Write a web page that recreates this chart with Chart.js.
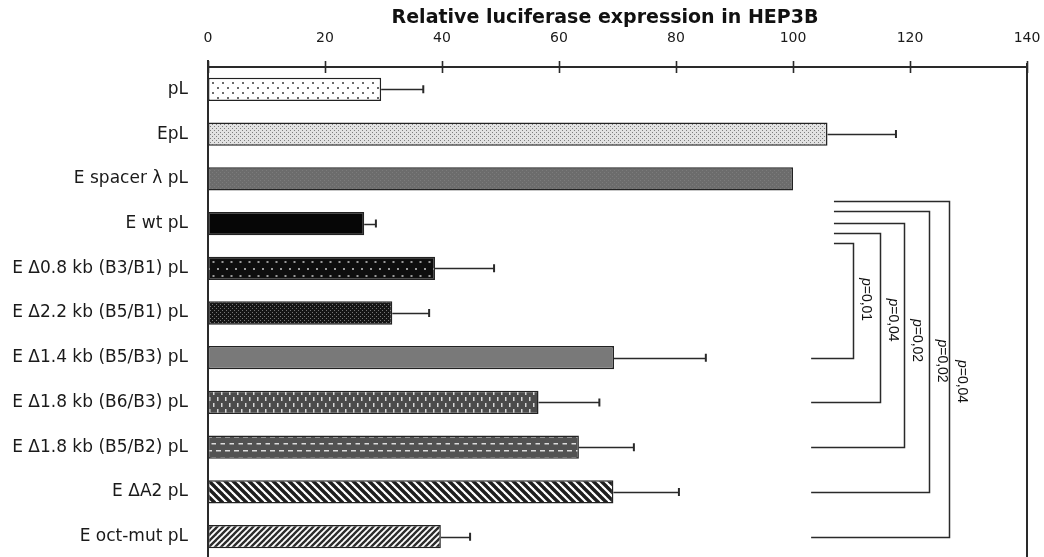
<!DOCTYPE html>
<html>
<head>
<meta charset="utf-8">
<script src="https://cdn.jsdelivr.net/npm/chart.js@4.4.1/dist/chart.umd.min.js"></script>
<style>
  html, body { margin: 0; padding: 0; background: #fff; overflow: hidden; }
  canvas { display: block; }
</style>
</head>
<body>
<canvas id="c" width="1044" height="561"></canvas>
<script>
// Reporter constructs, top to bottom
const constructs = [
  'pL',
  'EpL',
  'E spacer λ pL',
  'E wt pL',
  'E Δ0.8 kb (B3/B1) pL',
  'E Δ2.2 kb (B5/B1) pL',
  'E Δ1.4 kb (B5/B3) pL',
  'E Δ1.8 kb (B6/B3) pL',
  'E Δ1.8 kb (B5/B2) pL',
  'E ΔA2 pL',
  'E oct-mut pL'
];

// Relative luciferase expression (E spacer λ pL = 100)
const expression = [29.6, 105.9, 100, 26.7, 38.8, 31.5, 69.4, 56.5, 63.4, 69.3, 39.8];

// Upper error (standard deviation)
const errorUp = [7.2, 11.7, 0, 2.0, 10.1, 6.3, 15.7, 10.4, 9.4, 11.2, 5.0];

// Axis tick values
const xTicks = [0, 20, 40, 60, 80, 100, 120, 140];

// Pairwise comparisons against E wt pL
const compareRef = 'E wt pL';
const compareTest = ['E Δ1.4 kb (B5/B3) pL', 'E Δ1.8 kb (B6/B3) pL', 'E Δ1.8 kb (B5/B2) pL', 'E ΔA2 pL', 'E oct-mut pL'];
const pValues = ['0,01', '0,04', '0,02', '0,02', '0,04'];

const titleText = 'Relative luciferase expression in HEP3B';

// ---------- fill patterns ----------
const mainCtx = document.getElementById('c').getContext('2d');
function tile(w, h, bg, draw) {
  const t = document.createElement('canvas');
  t.width = w; t.height = h;
  const g = t.getContext('2d');
  g.fillStyle = bg; g.fillRect(0, 0, w, h);
  if (draw) draw(g);
  return mainCtx.createPattern(t, 'repeat');
}
function dots(pts, color, s) {
  return g => { g.fillStyle = color; pts.forEach(p => g.fillRect(p[0], p[1], s, s)); };
}
function stripes(w, color, lw, dir) {
  return g => {
    g.strokeStyle = color; g.lineWidth = lw;
    for (let k = -1; k <= 1; k++) {
      g.beginPath();
      if (dir > 0) { g.moveTo(k * w - 1, -1); g.lineTo(k * w + w + 1, w + 1); }
      else { g.moveTo(k * w - 1, w + 1); g.lineTo(k * w + w + 1, -1); }
      g.stroke();
    }
  };
}
const fills = [
  tile(10, 10, '#ffffff', dots([[2, 2], [7, 7]], '#6a6a6a', 2)),
  tile(4, 4, '#e2e2e2', dots([[0, 0], [2, 2]], '#7e7e7e', 1)),
  tile(4, 4, '#6c6c6c', dots([[0, 0], [2, 2]], '#7b7b7b', 1)),
  '#060606',
  tile(9, 14, '#0e0e0e', dots([[1, 2], [5.5, 9]], '#9a9a9a', 2)),
  tile(4, 4, '#151515', dots([[0, 0], [2, 2]], '#767676', 1)),
  '#797979',
  tile(8, 12, '#4b4b4b', g => { g.fillStyle = '#d8d8d8'; g.fillRect(1, 1, 1.5, 4); g.fillRect(5, 7, 1.5, 4); }),
  tile(9, 14, '#525252', g => { g.fillStyle = '#dcdcdc'; g.fillRect(0, 2, 5, 1.5); g.fillRect(4.5, 9, 5, 1.5); }),
  tile(8, 8, '#ffffff', stripes(8, '#1e1e1e', 3.4, 1)),
  tile(6, 6, '#ffffff', stripes(6, '#2c2c2c', 2.4, -1))
];

// ---------- overlay drawing: frame, ticks, error bars, brackets, title ----------
const ink = '#2a2a2a';
const overlay = {
  id: 'overlay',
  afterDatasetsDraw(chart) {
    const ctx = chart.ctx;
    const xs = chart.scales.x, ys = chart.scales.y;
    const a = chart.chartArea;
    ctx.save();
    ctx.strokeStyle = ink;
    ctx.lineCap = 'butt';

    // frame
    ctx.lineWidth = 2;
    ctx.beginPath();
    ctx.moveTo(a.left, a.top); ctx.lineTo(a.right, a.top);
    ctx.moveTo(a.left, a.top - 7); ctx.lineTo(a.left, a.bottom + 6);
    ctx.moveTo(a.right, a.top - 4); ctx.lineTo(a.right, a.bottom + 6);
    ctx.stroke();

    // tick marks crossing the top axis
    ctx.lineWidth = 1.6;
    ctx.beginPath();
    xTicks.forEach(v => {
      const x = Math.round(xs.getPixelForValue(v)) + 0.5;
      ctx.moveTo(x, a.top - 6); ctx.lineTo(x, a.top + 6);
    });
    ctx.stroke();

    // error bars (upper side only)
    ctx.lineWidth = 1.4;
    ctx.beginPath();
    expression.forEach((v, i) => {
      if (!errorUp[i]) return;
      const y = Math.round(ys.getPixelForValue(i)) + 0.5;
      const x0 = xs.getPixelForValue(v);
      const x1 = xs.getPixelForValue(v + errorUp[i]);
      ctx.moveTo(x0, y); ctx.lineTo(x1, y);
    });
    ctx.stroke();
    ctx.lineWidth = 2;
    ctx.beginPath();
    expression.forEach((v, i) => {
      if (!errorUp[i]) return;
      const y = ys.getPixelForValue(i);
      const x1 = xs.getPixelForValue(v + errorUp[i]);
      ctx.moveTo(x1, y - 4); ctx.lineTo(x1, y + 4);
    });
    ctx.stroke();

    // significance brackets
    const armX = [110.3, 114.9, 118.9, 123.2, 126.6];   // vertical arm, axis units
    const topDy = [19, 9, -1, -13, -23];                 // px from reference bar centre
    const topStart = 107.0, bottomStart = 103.1;         // axis units
    const yRef = ys.getPixelForValue(constructs.indexOf(compareRef));
    ctx.lineWidth = 1.5;
    compareTest.forEach((name, k) => {
      const yT = Math.round(yRef + topDy[k]) + 0.5;
      const yB = Math.round(ys.getPixelForValue(constructs.indexOf(name))) + 0.5;
      const xv = Math.round(xs.getPixelForValue(armX[k])) + 0.5;
      ctx.beginPath();
      ctx.moveTo(xs.getPixelForValue(topStart), yT);
      ctx.lineTo(xv, yT);
      ctx.lineTo(xv, yB);
      ctx.lineTo(xs.getPixelForValue(bottomStart), yB);
      ctx.stroke();

      // rotated label, reading downward
      const ly = yRef + 76 + 20.5 * k;
      const lx = xv + 12;
      ctx.save();
      ctx.translate(lx, ly);
      ctx.rotate(Math.PI / 2);
      ctx.fillStyle = '#111';
      ctx.textBaseline = 'middle';
      const fI = 'italic 14px "Liberation Sans", Arial, sans-serif';
      const fN = '14px "Liberation Sans", Arial, sans-serif';
      ctx.font = fI; const wp = ctx.measureText('p').width;
      ctx.font = fN; const rest = '=' + pValues[k]; const wr = ctx.measureText(rest).width;
      const x0 = -(wp + wr) / 2;
      ctx.textAlign = 'left';
      ctx.font = fI; ctx.fillText('p', x0, 0);
      ctx.font = fN; ctx.fillText(rest, x0 + wp, 0);
      ctx.restore();
    });

    // title
    ctx.fillStyle = '#111';
    ctx.font = 'bold 19px "DejaVu Sans", Verdana, sans-serif';
    ctx.textAlign = 'center';
    ctx.textBaseline = 'middle';
    ctx.fillText(titleText, 605, 18);
    ctx.restore();
  }
};

new Chart(document.getElementById('c'), {
  type: 'bar',
  data: {
    labels: constructs,
    datasets: [{
      data: expression,
      backgroundColor: fills,
      borderColor: '#222',
      borderWidth: 1.5,
      borderSkipped: false,
      categoryPercentage: 1,
      barPercentage: 0.52
    }]
  },
  options: {
    indexAxis: 'y',
    responsive: false,
    animation: false,
    layout: { padding: { left: 0, right: 17, top: 0, bottom: 2 } },
    plugins: { legend: { display: false }, tooltip: { enabled: false } },
    scales: {
      x: {
        type: 'linear',
        position: 'top',
        min: 0, max: 140,
        afterBuildTicks(s) { s.ticks = xTicks.map(v => ({ value: v })); },
        ticks: {
          color: '#1a1a1a',
          font: { family: '"DejaVu Sans", Verdana, sans-serif', size: 14 },
          padding: 20,
          maxRotation: 0
        },
        grid: { display: false, drawTicks: false },
        border: { display: false },
        afterFit(s) { s.height = 67; s.paddingLeft = 0; s.paddingRight = 0; }
      },
      y: {
        type: 'category',
        ticks: {
          color: '#1a1a1a',
          font: { family: '"DejaVu Sans", Verdana, sans-serif', size: 17 },
          padding: 20
        },
        grid: { display: false, drawTicks: false },
        border: { display: false },
        afterFit(s) { s.width = 208; s.paddingTop = 0; s.paddingBottom = 0; }
      }
    }
  },
  plugins: [overlay]
});
</script>
</body>
</html>
